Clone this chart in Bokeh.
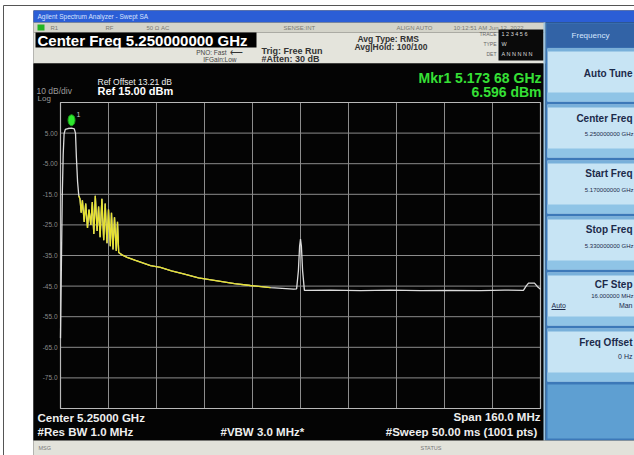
from bokeh.plotting import figure
from bokeh.models import Range1d
from bokeh.embed import file_html
from bokeh.resources import INLINE
from bokeh.core.properties import value

# ---------------- data ----------------
start_mhz, stop_mhz = 5170.0, 5330.0
ref_dbm, db_per_div, n_div = 15.0, 10.0, 10
mkr_freq_mhz, mkr_power_dbm = 5173.68, 6.596

freq_mhz = [5170.0, 5170.3, 5170.6, 5170.9, 5171.2, 5171.6, 5172.5, 5173.68, 5174.6, 5175.0,
            5175.3, 5175.7, 5176.1, 5176.5, 5176.9, 5177.3, 5177.9, 5178.4, 5179.0, 5179.5,
            5180.1, 5180.6, 5181.1, 5181.6, 5182.2, 5182.7, 5183.2, 5183.8, 5184.4, 5184.9,
            5185.5, 5186.0, 5186.6, 5187.0, 5187.5, 5188.0, 5188.6, 5189.0, 5189.4, 5190.5,
            5192.2, 5195.0, 5200.0, 5203.3, 5207.0, 5211.0, 5216.0, 5222.3, 5228.0, 5233.3,
            5240.0, 5247.7, 5248.7, 5249.3, 5249.7, 5250.0, 5250.3, 5250.7, 5251.3, 5260.0,
            5270.0, 5280.0, 5290.0, 5300.0, 5310.0, 5318.0, 5324.3, 5325.2, 5326.0, 5328.0,
            5329.0, 5330.0]
power_dbm = [-62.0, -38.0, -15.0, -2.0, 4.8, 6.2, 6.5, 6.6, 6.4, 5.0,
             -3.0, -11.0, -15.5, -16.5, -21.0, -17.0, -24.0, -18.0, -26.0, -20.0,
             -25.0, -17.5, -28.0, -15.5, -27.0, -19.0, -29.0, -16.5, -30.0, -18.0,
             -31.0, -20.0, -32.0, -21.0, -33.0, -22.5, -33.5, -24.0, -34.0, -34.8,
             -35.6, -36.6, -38.3, -38.9, -40.0, -41.0, -42.3, -43.3, -44.2, -44.8,
             -45.5, -46.0, -45.9, -40.0, -32.0, -29.6, -32.0, -40.0, -46.4, -46.3,
             -46.5, -46.3, -46.5, -46.4, -46.5, -46.3, -46.4, -45.0, -44.0, -44.0,
             -45.2, -46.0]

grid_freqs = [5170, 5186, 5202, 5218, 5234, 5250, 5266, 5282, 5298, 5314, 5330]
grid_levels = [15, 5, -5, -15, -25, -35, -45, -55, -65, -75, -85]
level_label_values = [5, -5, -15, -25, -35, -45, -55, -65, -75]
level_labels = ["5.00", "-5.00", "-15.0", "-25.0", "-35.0", "-45.0", "-55.0", "-65.0", "-75.0"]

# ---------------- geometry (page pixels) ----------------
PX0, PY0 = 0, 0
W, H = 634, 455
GX0, GX1, GY0, GY1 = 60, 540, 102, 408   # graticule in page pixels
bottom_dbm = ref_dbm - db_per_div * n_div

p = figure(width=W, height=H, x_range=Range1d(PX0, PX0 + W), y_range=Range1d(PY0 + H, PY0),
           output_backend="svg", toolbar_location=None, min_border=0,
           x_axis_location=None, y_axis_location=None)
p.grid.visible = False
p.outline_line_color = None
p.background_fill_color = "white"
p.border_fill_color = "white"

mhz_per_px = (stop_mhz - start_mhz) / (GX1 - GX0)
db_per_px = (ref_dbm - bottom_dbm) / (GY1 - GY0)
p.extra_x_ranges = {"freq": Range1d(start_mhz - (GX0 - PX0) * mhz_per_px,
                                    stop_mhz + (PX0 + W - GX1) * mhz_per_px)}
p.extra_y_ranges = {"db": Range1d(bottom_dbm - (PY0 + H - GY1) * db_per_px,
                                  ref_dbm + (GY0 - PY0) * db_per_px)}

FONT = value("Liberation Sans")


def box(l, r, t, b, color, **kw):
    p.quad(left=[l], right=[r], top=[t], bottom=[b], fill_color=color, line_color=None, **kw)


def txt(x, y, s, size, color, align="left", bold=False, **kw):
    p.text(x=[x], y=[y], text=[s], text_font=FONT, text_font_size=f"{size}px",
           text_color=color, text_align=align, text_baseline="middle",
           text_font_style="bold" if bold else "normal", **kw)


# table border of the page
p.segment(x0=[3], y0=[5], x1=[634], y1=[5], line_color="#555555", line_width=1)
p.segment(x0=[3], y0=[5], x1=[3], y1=[455], line_color="#555555", line_width=1)

# screenshot frame
box(33, 640, 10, 460, "#101010")
# title bar
box(33, 640, 10, 22, "#2b5ed6")
txt(37, 16, "Agilent Spectrum Analyzer - Swept SA", 6.5, "#d8e2ff")
# status row
box(33, 545, 22, 32, "#d4d4ca")
box(37, 44, 24, 30, "#22b422")
for x, s in [(50, "R1"), (105, "RF"), (146, "50 Ω  AC"), (283, "SENSE:INT"),
             (396, "ALIGN AUTO"), (453, "10:12:51 AM Jun 12, 2022")]:
    txt(x, 27, s, 6, "#7a7a72")
# info area
box(33, 545, 32, 63, "#e4e4dc")
box(35, 256, 32, 47, "#000000")
txt(37, 40, "Center Freq 5.250000000 GHz", 15, "#ffffff", bold=True)
txt(226, 51.5, "PNO: Fast", 6.5, "#444444", align="right")
txt(229, 51.5, "⟵", 9, "#333333")
txt(236, 58.5, "IFGain:Low", 6.5, "#444444", align="right")
txt(261, 50, "Trig: Free Run", 9, "#333333", bold=True)
txt(261, 58, "#Atten: 30 dB", 9, "#333333", bold=True)
txt(357, 38, "Avg Type: RMS", 8.5, "#333333", bold=True)
txt(354, 46, "Avg|Hold: 100/100", 8.5, "#333333", bold=True)
txt(496, 33, "TRACE", 5, "#666666", align="right")
txt(496, 43, "TYPE", 5, "#666666", align="right")
txt(496, 53, "DET", 5, "#666666", align="right")
box(498, 543, 29, 60, "#0a0a0a")
txt(501, 33, "1 2 3 4 5 6", 5.5, "#dddddd")
txt(501, 43, "W", 5.5, "#dddddd")
txt(501, 53, "A N N N N N", 5.5, "#dddddd")

# black display
box(33, 543, 63, 440, "#040404")
box(543, 545, 22, 440, "#9cc4e0")

# softkey panel
box(545, 640, 22, 440, "#3c78b8")
box(546, 640, 23, 47, "#3263a6")
txt(590, 35, "Frequency", 8, "#d6e6ff", align="center")
key_tops = [48, 104, 160, 216, 272, 328]
for t in key_tops:
    box(547, 640, t, t + 53, "#c7e4f4")
    box(547, 640, t, t + 3, "#78b0da")
    box(547, 640, t + 44, t + 53, "#8fc4e6")
box(547, 640, 384, 438, "#5e9fd2")
SK = "#1c2a4a"
txt(632, 73, "Auto Tune", 10, SK, align="right", bold=True)
txt(632, 118, "Center Freq", 10, SK, align="right", bold=True)
txt(633, 133, "5.250000000 GHz", 6, SK, align="right")
txt(632, 173, "Start Freq", 10, SK, align="right", bold=True)
txt(633, 189, "5.170000000 GHz", 6, SK, align="right")
txt(632, 229, "Stop Freq", 10, SK, align="right", bold=True)
txt(633, 245, "5.330000000 GHz", 6, SK, align="right")
txt(632, 284, "CF Step", 10, SK, align="right", bold=True)
txt(633, 295, "16.000000 MHz", 6, SK, align="right")
txt(551, 305, "Auto", 7, SK)
p.segment(x0=[551], y0=[309], x1=[565], y1=[309], line_color=SK, line_width=1)
txt(632, 305, "Man", 7, SK, align="right")
txt(632, 342, "Freq Offset", 10, SK, align="right", bold=True)
txt(632, 356, "0 Hz", 7, SK, align="right")

# status bar
box(33, 640, 440, 460, "#e2e2da")
txt(38, 447, "MSG", 5.5, "#777777")
txt(420, 447, "STATUS", 5.5, "#777777")

# display annotations
txt(36, 90, "10 dB/div", 8.5, "#9a9a9a")
txt(37, 98, "Log", 8, "#9a9a9a")
txt(97, 81, "Ref Offset 13.21 dB", 8.5, "#eeeeee")
txt(97, 90, "Ref 15.00 dBm", 11, "#ffffff", bold=True)
txt(541, 77, "Mkr1 5.173 68 GHz", 14, "#36e036", align="right", bold=True)
txt(541, 91, "6.596 dBm", 14, "#36e036", align="right", bold=True)
txt(37, 417, "Center 5.25000 GHz", 11.5, "#eeeeee", bold=True)
txt(37, 431, "#Res BW 1.0 MHz", 11.5, "#eeeeee", bold=True)
txt(220, 431, "#VBW 3.0 MHz*", 11.5, "#eeeeee", bold=True)
txt(540, 416, "Span 160.0 MHz", 11.5, "#eeeeee", align="right", bold=True)
txt(540, 431, "#Sweep  50.00 ms (1001 pts)", 11.5, "#eeeeee", align="right", bold=True)

# graticule (drawn through the frequency / level scales)
R = dict(x_range_name="freq", y_range_name="db")
p.segment(x0=grid_freqs, y0=[bottom_dbm] * len(grid_freqs), x1=grid_freqs,
          y1=[ref_dbm] * len(grid_freqs), line_color="#8c8c8c", line_width=1, **R)
p.segment(x0=[start_mhz] * len(grid_levels), y0=grid_levels, x1=[stop_mhz] * len(grid_levels),
          y1=grid_levels, line_color="#8c8c8c", line_width=1, **R)
p.quad(left=[start_mhz], right=[stop_mhz], top=[ref_dbm], bottom=[bottom_dbm],
       fill_color=None, line_color="#b8b8b8", line_width=1.2, **R)
p.text(x=[start_mhz] * len(level_labels), y=level_label_values, text=level_labels,
       text_font=FONT, text_font_size="6.5px", text_color="#8a8a8a", text_align="right",
       text_baseline="middle", x_offset=-3, x_range_name="freq", y_range_name="db")

# trace
p.line(freq_mhz, power_dbm, line_color="#dcdcdc", line_width=1.3, **R)
yf = [f for f in freq_mhz if 5176.0 <= f <= 5240.0]
yp = [pw for f, pw in zip(freq_mhz, power_dbm) if 5176.0 <= f <= 5240.0]
p.line(yf, yp, line_color="#e8e21c", line_width=1.3, line_alpha=0.9, **R)

# marker
p.ellipse(x=[mkr_freq_mhz], y=[mkr_power_dbm + 8 * db_per_px], width=7, height=11,
          width_units="screen", height_units="screen", fill_color="#2ee82e",
          line_color="#1aa01a", **R)
p.text(x=[mkr_freq_mhz], y=[mkr_power_dbm], text=["1"], text_font=FONT, text_font_size="7px",
       text_color="#cccccc", x_offset=5, y_offset=-14, text_baseline="middle", **R)

open("out.html", "w").write(file_html(p, INLINE))
